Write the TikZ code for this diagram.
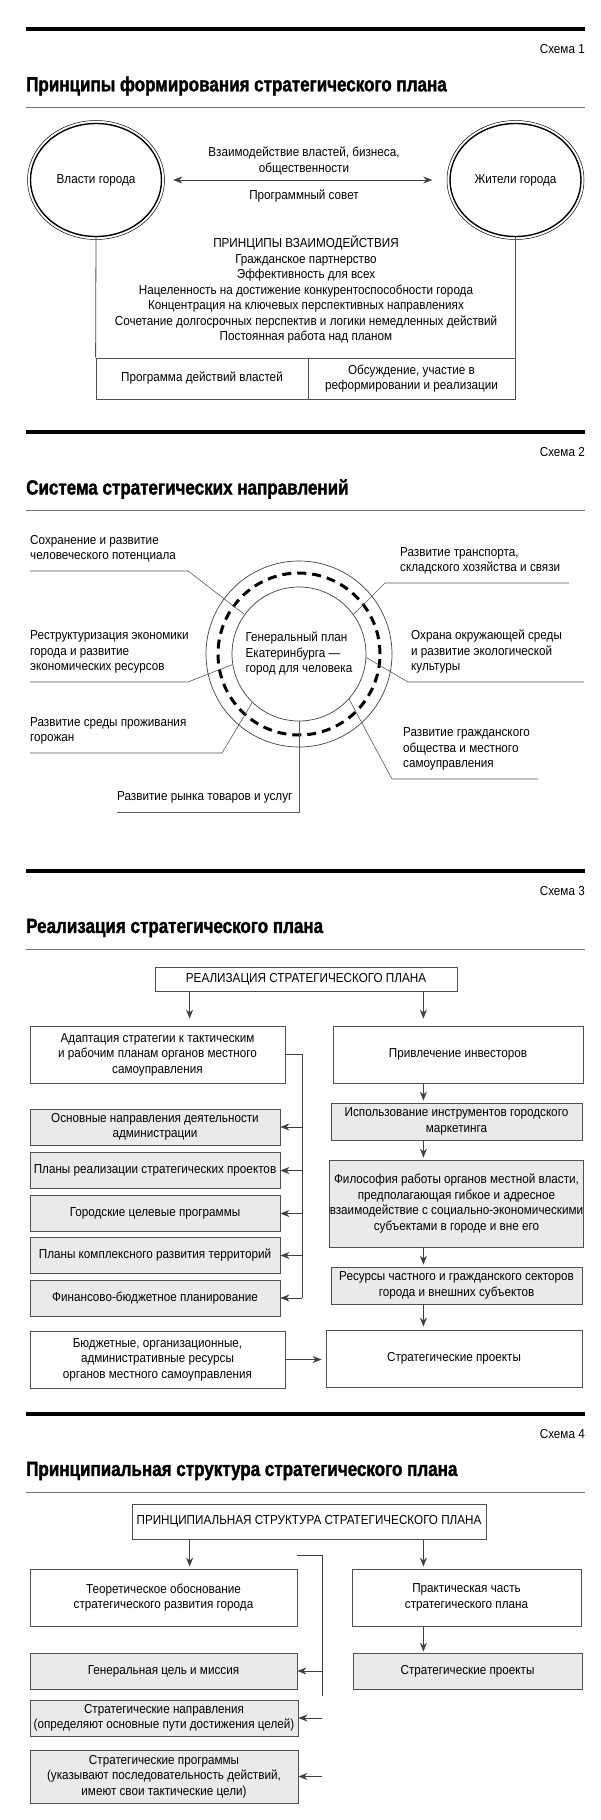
\documentclass[tikz,border=0pt]{standalone}
\usepackage{fontspec}
\setmainfont{Liberation Sans}[FakeStretch=0.9]
\newfontfamily\headfont{Liberation Sans Bold}[FakeStretch=0.83, FakeBold=1.5]
\usetikzlibrary{arrows.meta,positioning,shapes.geometric}

\definecolor{boxfill}{HTML}{EAEAEA}
\definecolor{boxline}{HTML}{505050}

\begin{document}
\begin{tikzpicture}[x=1pt, y=-1pt,
    font=\fontsize{13}{15.5}\selectfont,
    every node/.style={inner sep=0pt},
    head/.style={font=\headfont\fontsize{20.5}{24}\selectfont, anchor=west},
    num/.style={anchor=east},
    wbox/.style={draw=boxline, line width=0.8pt, fill=white, align=center},
    gbox/.style={wbox, fill=boxfill},
    conn/.style={draw=black!75, line width=0.7pt},
    lead/.style={draw=black!65, line width=0.6pt},
    lbl/.style={anchor=south west, align=left, text depth=3pt, inner ysep=8pt},
    arr/.style={conn, -{Stealth[length=9pt, width=7pt]}},
  ]
  \path[use as bounding box, fill=white] (0,0) rectangle (600,1820);

  % headings of the four schemes
  \foreach \y/\n/\t in {29/1/Принципы формирования стратегического плана,
      432/2/Система стратегических направлений,
      871/3/Реализация стратегического плана,
      1414/4/Принципиальная структура стратегического плана}{
    \draw[line width=4pt] (26,\y) -- (585,\y);
    \node[num] (num\n) at (585,\y+20) {Схема \n};
    \node[head] (head\n) at (26,\y+57) {\t};
    \draw[line width=0.8pt, black!55] (26,\y+78) -- (585,\y+78);
  }

  % scheme 1
  \node[ellipse, draw, line width=1.4pt, minimum width=131pt, minimum height=113pt] (vlasti) at (96,180) {Власти города};
  \node[ellipse, draw, line width=1.4pt, minimum width=131pt, minimum height=113pt] (zhiteli) at (515.5,180) {Жители города};
  \draw[line width=0.5pt] (vlasti.center) ellipse [x radius=68.5pt, y radius=59.5pt];
  \draw[line width=0.5pt] (zhiteli.center) ellipse [x radius=68.5pt, y radius=59.5pt];
  \draw[conn, {Stealth[length=9pt, width=7pt]}-{Stealth[length=9pt, width=7pt]}, shorten <=11pt, shorten >=17pt] (vlasti) -- (zhiteli);
  \node[align=center] (vzaim) at (304,161) {Взаимодействие властей, бизнеса,\\общественности};
  \node (sovet) at (304,196) {Программный совет};
  \node[align=center] (princ) at (306,289.5) {ПРИНЦИПЫ ВЗАИМОДЕЙСТВИЯ\\Гражданское партнерство\\Эффективность для всех\\Нацеленность на достижение конкурентоспособности города\\Концентрация на ключевых перспективных направлениях\\Сочетание долгосрочных перспектив и логики немедленных действий\\Постоянная работа над планом};
  \node[wbox, minimum width=212pt, minimum height=41pt] (progdeist) at (202,378.5) {Программа действий властей};
  \node[wbox, minimum width=207pt, minimum height=41pt] (obsuzh) at (411.5,378.5) {Обсуждение, участие в\\реформировании и реализации};
  \draw[draw=boxline, line width=0.8pt] (vlasti.south) -- (progdeist.north west);
  \draw[draw=boxline, line width=0.8pt] (zhiteli.south) -- (obsuzh.north east);

  % scheme 2
  \node[circle, draw=black!75, line width=0.7pt, minimum size=134pt, align=left] (genplan) at (299,654) {Генеральный план\\Екатеринбурга —\\город для человека};
  \draw[conn] (genplan.center) circle [radius=93pt];
  \draw[line width=3pt, dash pattern=on 9pt off 6pt] (genplan.center) circle [radius=81pt];

  \node[lbl] (sohr) at (30,571) {Сохранение и развитие\\человеческого потенциала};
  \node[lbl] (trans) at (400,583) {Развитие транспорта,\\складского хозяйства и связи};
  \node[lbl] (restr) at (30,682) {Реструктуризация экономики\\города и развитие\\экономических ресурсов};
  \node[lbl] (ohrana) at (411,682) {Охрана окружающей среды\\и развитие экологической\\культуры};
  \node[lbl] (sreda) at (30,753) {Развитие среды проживания\\горожан};
  \node[lbl] (rynok) at (117,812) {Развитие рынка товаров и услуг};
  \node[lbl] (grazh) at (403,779) {Развитие гражданского\\общества и местного\\самоуправления};

  \coordinate (sohr-k) at (188,571);
  \coordinate (trans-e) at (569,583);
  \coordinate (trans-k) at (385,583);
  \coordinate (restr-k) at (188,682);
  \coordinate (ohrana-e) at (584,682);
  \coordinate (ohrana-k) at (408,682);
  \coordinate (sreda-k) at (222,753);
  \coordinate (grazh-e) at (538,779);
  \coordinate (grazh-k) at (392,779);
  \draw[lead] (sohr.south west) -- (sohr-k) -- (genplan.144);
  \draw[lead] (trans-e) -- (trans-k) -- (genplan.36);
  \draw[lead] (restr.south west) -- (restr-k) -- (genplan.189);
  \draw[lead] (ohrana-e) -- (ohrana-k) -- (genplan.357);
  \draw[lead] (sreda.south west) -- (sreda-k) -- (genplan.226);
  \draw[lead] (rynok.south west) -- (rynok.south west -| genplan.south) -- (genplan.south);
  \draw[lead] (grazh-e) -- (grazh-k) -- (genplan.318);

  % scheme 3
  \node[wbox, minimum width=302pt, minimum height=24pt] (realiz) at (306,979) {РЕАЛИЗАЦИЯ СТРАТЕГИЧЕСКОГО ПЛАНА};
  \node[wbox, minimum width=255pt, minimum height=57pt] (adapt) at (157.5,1054.5) {Адаптация стратегии к тактическим\\и рабочим планам органов местного\\самоуправления};
  \node[wbox, minimum width=250pt, minimum height=57pt] (invest) at (458,1054.5) {Привлечение инвесторов};
  \coordinate (lax) at ([xshift=35pt]realiz.south west);
  \coordinate (rax) at ([xshift=-34pt]realiz.south east);
  \draw[arr, shorten >=7pt] (lax) -- (lax |- adapt.north);
  \draw[arr, shorten >=7pt] (rax) -- (rax |- invest.north);

  \coordinate (bus) at (302,1054.5);
  \coordinate (busend) at (302,1298);
  \draw[conn] (adapt.east) -- (bus) -- (busend);
  \foreach \i/\yc/\t in {1/1127/{Основные направления деятельности\\администрации},
      2/1170.5/Планы реализации стратегических проектов,
      3/1213.5/Городские целевые программы,
      4/1255.5/Планы комплексного развития территорий,
      5/1298/Финансово-бюджетное планирование}{
    \node[gbox, minimum width=250pt, minimum height=36pt] (plan\i) at (155,\yc) {\t};
    \draw[arr] (bus |- plan\i.east) -- (plan\i.east);
  }

  \node[gbox, minimum width=251pt, minimum height=37pt] (market) at (456.5,1121.5) {Использование инструментов городского\\маркетинга};
  \node[gbox, minimum width=251pt, minimum height=87pt] (filos) at (456.5,1203.5) {Философия работы органов местной власти,\\предполагающая гибкое и адресное\\взаимодействие с социально-экономическими\\субъектами в городе и вне его};
  \node[gbox, minimum width=251pt, minimum height=37pt] (resurs) at (456.5,1285.5) {Ресурсы частного и гражданского секторов\\города и внешних субъектов};
  \node[wbox, minimum width=256pt, minimum height=57pt] (strproj) at (454,1358.5) {Стратегические проекты};
  \node[wbox, minimum width=255pt, minimum height=57pt] (budzh) at (157.5,1359.5) {Бюджетные, организационные,\\административные ресурсы\\органов местного самоуправления};
  \draw[arr, shorten >=2pt] (invest.south -| rax) -- (market.north -| rax);
  \draw[arr, shorten >=2pt] (market.south -| rax) -- (filos.north -| rax);
  \draw[arr, shorten >=2pt] (filos.south -| rax) -- (resurs.north -| rax);
  \draw[arr, shorten >=3pt] (resurs.south -| rax) -- (strproj.north -| rax);
  \draw[arr, shorten >=4pt] (budzh.east) -- (budzh.east -| strproj.west);

  % scheme 4
  \node[wbox, minimum width=354pt, minimum height=35pt] (struct) at (309,1521.5) {ПРИНЦИПИАЛЬНАЯ СТРУКТУРА СТРАТЕГИЧЕСКОГО ПЛАНА};
  \node[wbox, minimum width=267pt, minimum height=57pt] (theor) at (163.5,1597.5) {Теоретическое обоснование\\стратегического развития города};
  \node[wbox, minimum width=229pt, minimum height=57pt] (prakt) at (466.5,1597.5) {Практическая часть\\стратегического плана};
  \node[gbox, minimum width=267pt, minimum height=36pt] (genc) at (163.5,1671) {Генеральная цель и миссия};
  \node[gbox, minimum width=229pt, minimum height=36pt] (sproj) at (467.5,1671) {Стратегические проекты};
  \node[gbox, minimum width=268pt, minimum height=36pt] (napr) at (164,1718) {Стратегические направления\\(определяют основные пути достижения целей)};
  \node[gbox, minimum width=268pt, minimum height=53pt] (sprog) at (164,1776.5) {Стратегические программы\\(указывают последовательность действий,\\имеют свои тактические цели)};

  \coordinate (sl) at ([xshift=58pt]struct.south west);
  \coordinate (sr) at ([xshift=-63pt]struct.south east);
  \draw[arr, shorten >=2pt] (sl) -- (sl |- theor.north);
  \draw[arr, shorten >=2pt] (sr) -- (sr |- prakt.north);
  \draw[arr, shorten >=1pt] (prakt.south -| sr) -- (sproj.north -| sr);

  \coordinate (sbus) at (322,1555);
  \coordinate (sbusend) at (322,1696);
  \draw[conn] (theor.east |- sbus) -- (sbus) -- (sbusend);
  \draw[arr] (sbus |- genc.east) -- (genc.east);
  \draw[arr] (sbus |- napr.east) -- (napr.east);
  \draw[arr] (sbus |- sprog.east) -- (sprog.east);
\end{tikzpicture}
\end{document}
